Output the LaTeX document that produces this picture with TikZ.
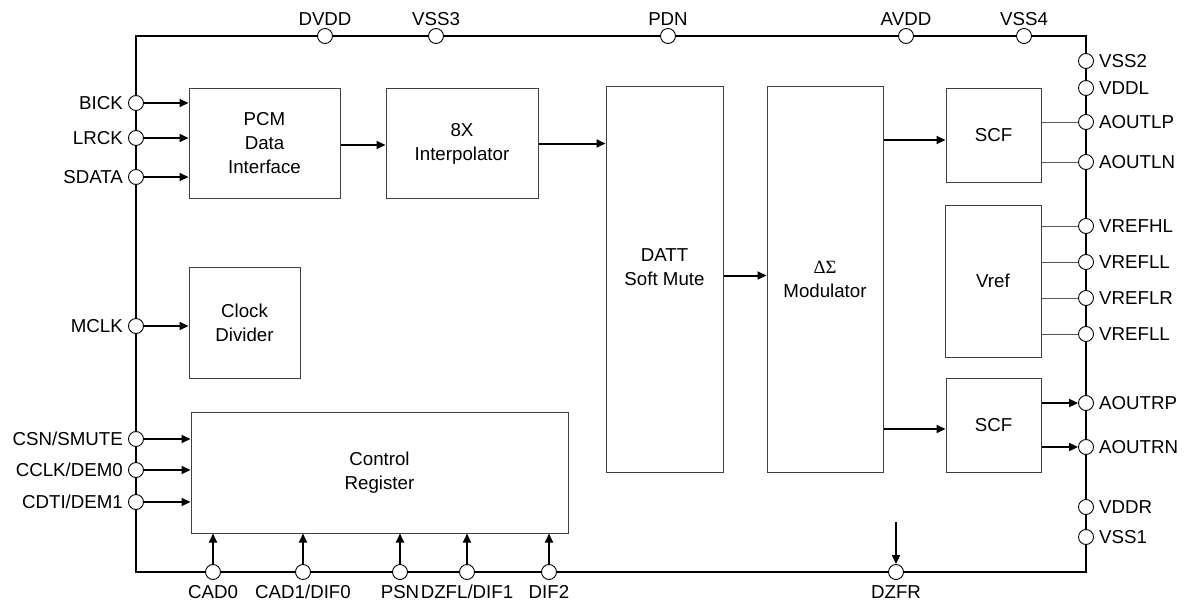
\documentclass[tikz,border=0pt]{standalone}
\usepackage{fontspec}
\setmainfont{Liberation Sans}
\newfontfamily\greekserif{Liberation Serif}
\usetikzlibrary{arrows.meta}
\begin{document}
\begin{tikzpicture}[x=1pt,y=-1pt,
  every node/.style={font=\fontsize{18.7}{24}\selectfont},
  blk/.style={draw=black!75, line width=1pt, fill=white, inner sep=0pt, align=center},
  pin/.style={circle, draw=black, line width=0.9pt, fill=white, minimum size=15pt, inner sep=0pt},
  sig/.style={line width=2pt, -{Triangle[length=9pt,width=8pt]}},
  wire/.style={line width=1pt, draw=black!65},
  lbl/.style={inner sep=0pt, text height=13.4pt, text depth=0pt}
]
\useasboundingbox (0,0) rectangle (1187,610);
% frame
\draw[line width=2pt] (136,36) rectangle (1086,572);

% blocks
\node[blk, minimum width=151pt, minimum height=109pt] (pcm) at (264.5,143.5) {PCM\\Data\\Interface};
\node[blk, minimum width=152pt, minimum height=109pt] (interp) at (462,143.5) {8X\\Interpolator};
\node[blk, minimum width=117pt, minimum height=385pt] (datt) at (664.5,279.5) {DATT\\Soft Mute\\\mbox{}};
\node[blk, minimum width=116pt, minimum height=385pt] (mod) at (825,279.5) {{\greekserif ΔΣ}\\Modulator};
\node[blk, minimum width=95pt, minimum height=93pt] (scfl) at (993.5,135.5) {SCF};
\node[blk, minimum width=96pt, minimum height=152pt] (vref) at (993,281) {Vref};
\node[blk, minimum width=95pt, minimum height=94pt] (scfr) at (993.5,425) {SCF};
\node[blk, minimum width=111pt, minimum height=111pt] (clk) at (244.5,322.5) {Clock\\Divider};
\node[blk, minimum width=377pt, minimum height=121pt] (ctrl) at (379.5,472.5) {Control\\Register};

% top pins
\foreach \n/\x/\t in {dvdd/325/DVDD, vssthree/436/VSS3, pdn/668/PDN, avdd/906/AVDD, vssfour/1024/VSS4}{
  \node[pin] (\n) at (\x,36) {};
  \node[lbl] at ([yshift=17pt]\n.center) {\t};
}
% left pins
\foreach \n/\y/\t in {bick/103/BICK, lrck/138/LRCK, sdata/177/SDATA, mclk/326/MCLK, csn/439/{CSN/SMUTE}, cclk/470/{CCLK/DEM0}, cdti/502/{CDTI/DEM1}}{
  \node[pin] (\n) at (136,\y) {};
  \node[lbl, anchor=east] at ([xshift=-5pt]\n.west) {\t};
}
% right pins
\foreach \n/\y/\t in {vsstwo/61/VSS2, vddl/88/VDDL, aoutlp/122/AOUTLP, aoutln/162/AOUTLN, vrefhl/226/VREFHL, vrefll/262/VREFLL, vreflr/298/VREFLR, vrefllb/334/VREFLL, aoutrp/403/AOUTRP, aoutrn/447/AOUTRN, vddr/507/VDDR, vssone/537/VSS1}{
  \node[pin] (\n) at (1086,\y) {};
  \node[lbl, anchor=west] at ([xshift=5pt]\n.east) {\t};
}
% bottom pins
\foreach \n/\x/\t in {cadz/213/CAD0, cadone/303/{CAD1/DIF0}, psn/400/PSN, dzfl/467/{DZFL/DIF1}, diftwo/549/DIF2, dzfr/896/DZFR}{
  \node[pin] (\n) at (\x,572) {};
  \node[lbl] at ([yshift=-20pt]\n.center) {\t};
}

% input arrows
\foreach \n in {bick,lrck,sdata}{
  \draw[sig] (\n.east) -- (\n -| pcm.west);
}
\draw[sig] (mclk.east) -- (mclk -| clk.west);
\foreach \n in {csn,cclk,cdti}{
  \draw[sig] (\n.east) -- (\n -| ctrl.west);
}
\foreach \n in {cadz,cadone,psn,dzfl,diftwo}{
  \draw[sig] (\n.north) -- (\n |- ctrl.south);
}
\coordinate (dzftop) at (896,522);
\draw[sig] (dzftop) -- (dzfr.north);

% data path
\draw[sig] ([yshift=-1.5pt]pcm.east) -- ([yshift=-1.5pt]interp.west);
\draw[sig] (interp.east) -- (interp.east -| datt.west);
\draw[sig] ([yshift=4pt]datt.east) -- ([yshift=4pt]mod.west);
\draw[sig] ([yshift=-4.5pt]scfl.west -| mod.east) -- ([yshift=-4.5pt]scfl.west);
\draw[sig] ([yshift=-4pt]scfr.west -| mod.east) -- ([yshift=-4pt]scfr.west);

% outputs
\draw[wire] (aoutlp -| scfl.east) -- (aoutlp.west);
\draw[wire] (aoutln -| scfl.east) -- (aoutln.west);
\foreach \n in {vrefhl,vrefll,vreflr,vrefllb}{
  \draw[wire] (\n -| vref.east) -- (\n.west);
}
\draw[sig] (aoutrp -| scfr.east) -- (aoutrp.west);
\draw[sig] (aoutrn -| scfr.east) -- (aoutrn.west);
\end{tikzpicture}
\end{document}
